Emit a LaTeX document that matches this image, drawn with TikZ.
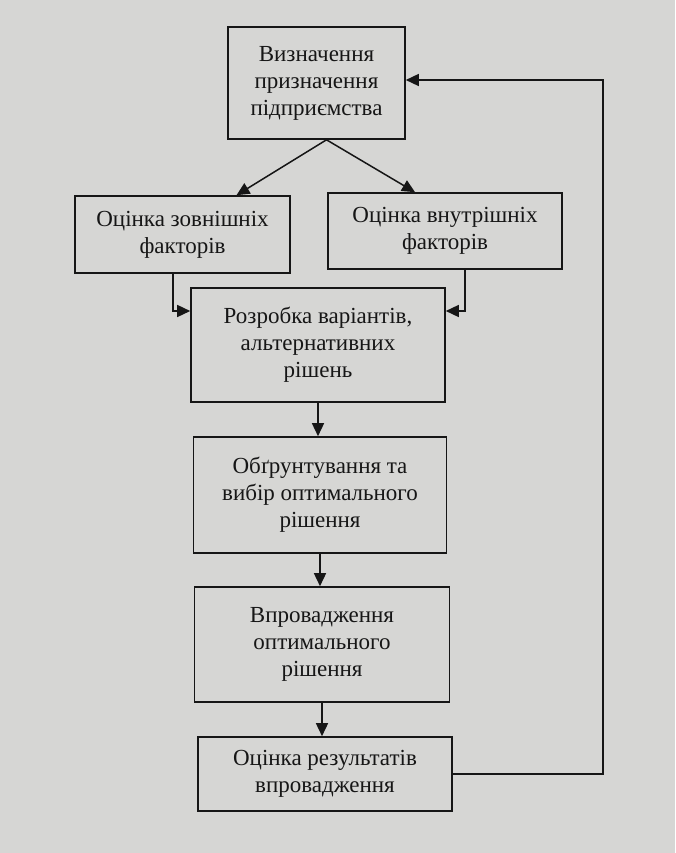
\documentclass[tikz,border=0pt]{standalone}
\usepackage{fontspec}
\setmainfont{Liberation Serif}
\usepackage{xcolor}
\usepackage{tikz}
\usetikzlibrary{positioning, calc, arrows.meta}
\definecolor{scanBg}{RGB}{214, 214, 212}
\definecolor{scanInk}{RGB}{22, 22, 22}
\tikzset{
    base/.style={
        font=\fontsize{23}{27}\selectfont,
        align=center,
        text=scanInk
    },
    stage/.style={
        base,
        rectangle,
        draw=scanInk,
        line width=1.6pt,
        inner sep=2pt
    },
    flow/.style={
        -{Triangle[length=13pt, width=12pt]},
        line width=1.5pt,
        color=scanInk
    }
}

\begin{document}
\begin{tikzpicture}[x=1pt, y=-1pt]
    % Page background
    \fill[scanBg] (0,0) rectangle (675,853);
    \useasboundingbox (0,0) rectangle (675,853);

    % Stages
    \node[stage, minimum width=177pt, minimum height=112pt] (purpose) at (316.5,83) {Визначення\\призначення\\підприємства};
    \node[stage, minimum width=215pt, minimum height=77pt] (external) at (182.5,234.5) {Оцінка зовнішніх\\факторів};
    \node[stage, minimum width=234pt, minimum height=76pt] (internal) at (445,231) {Оцінка внутрішніх\\факторів};
    \node[stage, minimum width=254pt, minimum height=114pt] (variants) at (318,345) {Розробка варіантів,\\альтернативних\\рішень};
    \node[stage, minimum width=253pt, minimum height=116pt] (choice) at (320,495) {Обґрунтування та\\вибір оптимального\\рішення};
    \node[stage, minimum width=255pt, minimum height=115pt] (implement) at (322,644.5) {Впровадження\\оптимального\\рішення};
    \node[stage, minimum width=254pt, minimum height=74pt] (result) at (325,774) {Оцінка результатів\\впровадження};

    % Feedback corner
    \coordinate (back) at (603,80);

    % Connectors
    \draw[flow] ([xshift=10pt]purpose.south) -- ([xshift=54pt]external.north);
    \draw[flow] ([xshift=10pt]purpose.south) -- ([xshift=-30pt]internal.north);
    \draw[flow] ([xshift=-9.5pt]external.south) |- ([yshift=34pt]variants.west);
    \draw[flow] ([xshift=20pt]internal.south) |- ([yshift=34pt]variants.east);
    \draw[flow] (variants.south) -- (variants.south |- choice.north);
    \draw[flow] (choice.south) -- (choice.south |- implement.north);
    \draw[flow] (implement.south) -- (implement.south |- result.north);
    \draw[flow] (result.east) -| (back) -- (purpose.east |- back);
\end{tikzpicture}
\end{document}
